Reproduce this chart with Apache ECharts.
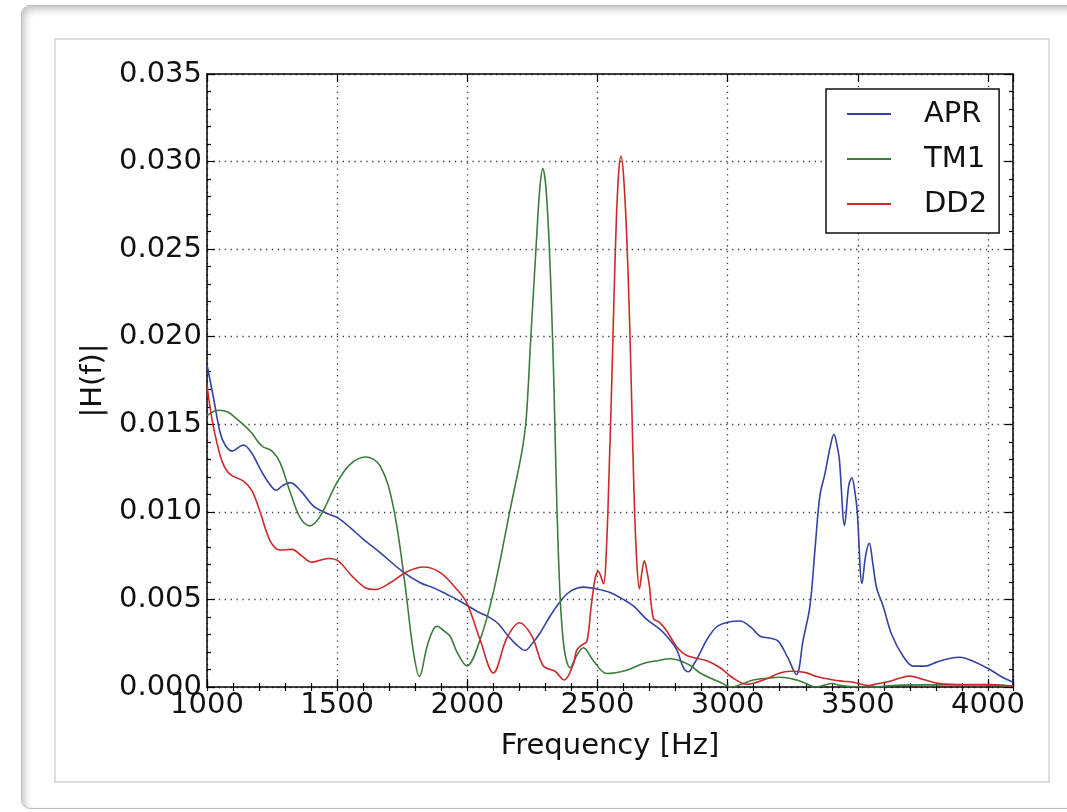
<!DOCTYPE html>
<html>
<head>
<meta charset="utf-8">
<title>|H(f)| vs Frequency</title>
<script src="https://cdn.jsdelivr.net/npm/echarts@6/dist/echarts.min.js"></script>
<style>
  html, body { margin: 0; padding: 0; background: #fff; width: 1067px; height: 812px; overflow: hidden; }
  #panel {
    position: absolute; left: 21px; top: 5px; width: 1090px; height: 802px;
    border: 1px solid #bdbdbd; border-radius: 9px; background: #fff;
    box-shadow: inset 3px 4px 7px rgba(0,0,0,0.22);
  }
  #chart { position: absolute; left: 0; top: 0; width: 1067px; height: 812px; }
</style>
</head>
<body>
<div id="panel"></div>
<div id="chart"></div>
<script>
// Transfer function magnitude |H(f)| for three equations of state
const seriesNames = ['APR', 'TM1', 'DD2'];
const seriesColors = ['#3442a3', '#3c7d3c', '#cc2a2a'];

const xTicks = [1000, 1500, 2000, 2500, 3000, 3500, 4000];
const yTicks = ['0.000', '0.005', '0.010', '0.015', '0.020', '0.025', '0.030', '0.035'];

const aprFreq = [1000, 1025, 1051, 1070, 1096, 1140, 1170, 1205, 1235, 1266, 1290, 1320, 1360, 1409, 1461, 1501, 1550, 1601, 1665, 1749, 1819, 1870, 1920, 1972, 2040, 2088, 2120, 2152, 2190, 2222, 2250, 2280, 2320, 2363, 2400, 2446, 2497, 2548, 2599, 2640, 2689, 2740, 2766, 2804, 2830, 2849, 2870, 2894, 2920, 2958, 3000, 3047, 3090, 3124, 3160, 3194, 3230, 3264, 3290, 3316, 3335, 3354, 3373, 3395, 3408, 3420, 3429, 3449, 3465, 3477, 3490, 3498, 3516, 3530, 3544, 3558, 3572, 3597, 3630, 3674, 3713, 3758, 3802, 3853, 3892, 3943, 4007, 4050, 4096];
const aprVal = [0.0184, 0.0165, 0.0145, 0.0138, 0.01347, 0.01382, 0.0134, 0.01243, 0.0117, 0.01123, 0.0115, 0.01167, 0.0112, 0.01033, 0.00991, 0.00967, 0.0091, 0.00843, 0.00767, 0.00662, 0.00595, 0.00567, 0.0053, 0.0049, 0.0043, 0.00395, 0.0036, 0.0030, 0.0024, 0.00209, 0.0025, 0.0031, 0.0041, 0.0050, 0.0055, 0.0057, 0.0056, 0.0054, 0.0050, 0.0046, 0.00386, 0.00329, 0.0029, 0.00214, 0.0011, 0.00087, 0.0013, 0.00195, 0.0027, 0.00344, 0.0037, 0.00377, 0.0034, 0.0029, 0.0028, 0.00262, 0.0017, 0.00071, 0.0027, 0.00462, 0.0078, 0.0109, 0.01214, 0.0138, 0.01443, 0.0138, 0.0130, 0.00923, 0.0115, 0.01195, 0.0110, 0.00995, 0.00591, 0.0075, 0.0082, 0.0070, 0.00567, 0.00462, 0.0030, 0.00176, 0.00119, 0.00119, 0.00142, 0.00163, 0.0017, 0.00147, 0.0010, 0.0006, 0.00027];

const tm1Freq = [1000, 1045, 1080, 1115, 1166, 1211, 1250, 1281, 1320, 1358, 1394, 1435, 1499, 1550, 1608, 1640, 1665, 1697, 1729, 1761, 1793, 1816, 1845, 1870, 1885, 1910, 1934, 1960, 1998, 2049, 2100, 2164, 2209, 2226, 2244, 2264, 2278, 2290, 2302, 2314, 2324, 2333, 2341, 2350, 2360, 2375, 2395, 2420, 2446, 2484, 2536, 2612, 2676, 2730, 2779, 2817, 2860, 2894, 2971, 3015, 3060, 3098, 3150, 3201, 3265, 3300, 3338, 3370, 3400, 3430, 3470, 3550, 3650, 3750, 3850, 3980, 4096];
const tm1Val = [0.0155, 0.0158, 0.0157, 0.0153, 0.0146, 0.01376, 0.01347, 0.0128, 0.0111, 0.00967, 0.0092, 0.00976, 0.01167, 0.01271, 0.01313, 0.0130, 0.01262, 0.01147, 0.0092, 0.0058, 0.0020, 0.0006, 0.0023, 0.0033, 0.00347, 0.0032, 0.0029, 0.0020, 0.0012, 0.0027, 0.0054, 0.0101, 0.0134, 0.0153, 0.0200, 0.0251, 0.0284, 0.0296, 0.0285, 0.0254, 0.0215, 0.0170, 0.0120, 0.0075, 0.0042, 0.0019, 0.0011, 0.0018, 0.00224, 0.0015, 0.00077, 0.00096, 0.00134, 0.0015, 0.00161, 0.0015, 0.0012, 0.0008, 0.00027, 0.0, 0.0002, 0.0004, 0.0005, 0.00056, 0.0004, 0.0002, 0.0, 0.0001, 0.0002, 0.0001, 0.00003, 0.0, 0.0001, 0.00012, 0.00012, 0.00012, 0.00004];

const dd2Freq = [1000, 1019, 1038, 1060, 1089, 1140, 1173, 1205, 1243, 1281, 1326, 1365, 1403, 1467, 1505, 1557, 1608, 1646, 1704, 1768, 1832, 1896, 1960, 1998, 2049, 2100, 2152, 2200, 2248, 2292, 2337, 2372, 2407, 2420, 2440, 2459, 2475, 2491, 2503, 2523, 2534, 2544, 2554, 2563, 2572, 2581, 2590, 2600, 2612, 2622, 2631, 2640, 2650, 2661, 2670, 2680, 2690, 2699, 2715, 2737, 2766, 2804, 2843, 2920, 2971, 3022, 3075, 3150, 3200, 3240, 3300, 3342, 3406, 3444, 3482, 3540, 3580, 3623, 3660, 3700, 3751, 3815, 3918, 4007, 4096];
const dd2Val = [0.0172, 0.0153, 0.01395, 0.0128, 0.01214, 0.01176, 0.0112, 0.00995, 0.00833, 0.00782, 0.00786, 0.00747, 0.00713, 0.00734, 0.00719, 0.00633, 0.00567, 0.00557, 0.00595, 0.00658, 0.00685, 0.00653, 0.00557, 0.0048, 0.0027, 0.0008, 0.0028, 0.00367, 0.0029, 0.0012, 0.0009, 0.0004, 0.0013, 0.0021, 0.0024, 0.0026, 0.0045, 0.0062, 0.0066, 0.0059, 0.0078, 0.0120, 0.0170, 0.0220, 0.0265, 0.0293, 0.0303, 0.0292, 0.0258, 0.0215, 0.0165, 0.0112, 0.0074, 0.0056, 0.0065, 0.0072, 0.0066, 0.0058, 0.0039, 0.0037, 0.0032, 0.0023, 0.0018, 0.0015, 0.0011, 0.0005, 0.00015, 0.00047, 0.0008, 0.0009, 0.00082, 0.0006, 0.0004, 0.00033, 0.00027, 0.00008, 0.0002, 0.00033, 0.0005, 0.00062, 0.00043, 0.0002, 0.00014, 0.00014, 0.00005];

const xMin = xTicks[0], xMax = 4096, xStep = 500, xMinorStep = 100;
const yMin = 0, yMax = 0.035, yStep = 0.005;

const FONT = 'DejaVu Sans';
const FS = 29;

function pairs(xs, ys) { return xs.map((x, i) => [x, ys[i]]); }

const gridLine = { show: true, lineStyle: { color: '#3a3a3a', width: 1.3, type: [1.3, 4.6] } };
const frameLine = { show: true, onZero: false, lineStyle: { color: '#000', width: 1.5 } };

function xAxisDef(position, major) {
  return {
    type: 'value', position: position, min: xMin, max: xMax,
    interval: major ? xStep : xMinorStep,
    axisLine: major ? frameLine : { show: false },
    axisTick: { show: true, inside: true, length: major ? 8 : 4, lineStyle: { color: '#000', width: 1.2 } },
    axisLabel: (major && position === 'bottom') ? {
      show: true, color: '#111', fontFamily: FONT, fontSize: FS, margin: 4,
      formatter: v => xTicks.indexOf(Math.round(v)) >= 0 && Math.abs(v - Math.round(v)) < 1e-6 ? String(Math.round(v)) : ''
    } : { show: false },
    splitLine: (major && position === 'bottom') ? gridLine : { show: false },
    name: (major && position === 'bottom') ? 'Frequency [Hz]' : '',
    nameLocation: 'middle', nameGap: 45,
    nameTextStyle: { color: '#111', fontFamily: FONT, fontSize: FS }
  };
}

function yAxisDef(position) {
  const left = position === 'left';
  return {
    type: 'value', position: position, min: yMin, max: yMax, interval: yStep,
    axisLine: frameLine,
    axisTick: { show: true, inside: true, length: 8, lineStyle: { color: '#000', width: 1.2 } },
    minorTick: { show: true, splitNumber: 5, length: 4, lineStyle: { color: '#000', width: 1.2 } },
    axisLabel: left ? {
      show: true, color: '#111', fontFamily: FONT, fontSize: FS, margin: 5,
      formatter: v => yTicks[Math.round(v / yStep)]
    } : { show: false },
    splitLine: left ? gridLine : { show: false },
    name: left ? '|H(f)|' : '',
    nameLocation: 'middle', nameRotate: 90, nameGap: 90,
    nameTextStyle: { color: '#111', fontFamily: FONT, fontSize: FS }
  };
}

const dataSets = [pairs(aprFreq, aprVal), pairs(tm1Freq, tm1Val), pairs(dd2Freq, dd2Val)];

const option = {
  animation: false,
  backgroundColor: 'transparent',
  textStyle: { fontFamily: FONT },
  grid: { left: 207, top: 74, width: 806, height: 613, containLabel: false },
  graphic: [{
    type: 'rect', silent: true, z: -10,
    shape: { x: 55, y: 39, width: 994, height: 743 },
    style: { fill: 'transparent', stroke: '#d4d4d4', lineWidth: 1.5 }
  }],
  legend: {
    orient: 'vertical', left: 826, top: 89,
    padding: [10, 12, 14, 21], itemGap: 15,
    itemWidth: 44, itemHeight: 2, icon: 'rect',
    borderColor: '#111', borderWidth: 1.5, backgroundColor: '#fff',
    textStyle: { fontFamily: FONT, fontSize: FS, color: '#111', lineHeight: 30, padding: [0, 0, 0, 28] },
    data: seriesNames
  },
  xAxis: [xAxisDef('bottom', true), xAxisDef('top', true), xAxisDef('bottom', false), xAxisDef('top', false)],
  yAxis: [yAxisDef('left'), yAxisDef('right')],
  series: seriesNames.map((name, i) => ({
    name: name, type: 'line', xAxisIndex: 0, yAxisIndex: 0,
    data: dataSets[i], showSymbol: false, symbol: 'none',
    smooth: 0.35, z: 3,
    color: seriesColors[i],
    lineStyle: { color: seriesColors[i], width: 1.6 }
  }))
};

const chart = echarts.init(document.getElementById('chart'), null, { renderer: 'canvas' });
chart.setOption(option);
</script>
</body>
</html>
